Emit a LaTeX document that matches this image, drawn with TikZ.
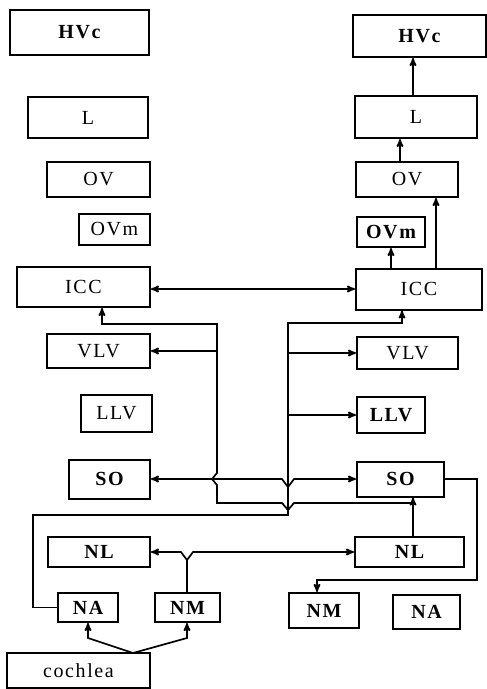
\documentclass[tikz,border=0pt]{standalone}
\usepackage{fontspec}
\setmainfont{Liberation Serif}[LetterSpace=8]
\usetikzlibrary{arrows}
\tikzset{
    %Define standard arrow tip
    >=stealth',
    %Define style for boxes
    nuc/.style={
           rectangle,
           draw=black, line width=2pt,
           inner sep=0pt,
           font=\fontsize{20}{24}\selectfont,
           text centered},
    nucb/.style={
           nuc,
           font=\fontsize{20}{24}\selectfont\bfseries},
    % Define arrow style
    pil/.style={
           ->,
           line width=1.7pt},
    bpil/.style={
           <->,
           line width=1.7pt}
}
\begin{document}
\begin{tikzpicture}[x=1pt,y=-1pt]
\useasboundingbox (0,0) rectangle (487,689);
% left side
\node[nucb, minimum width=139pt, minimum height=45pt] (lHVc) at (79.5,32.5) {HVc};
\node[nuc, minimum width=120pt, minimum height=41pt] (lL) at (88,117.5) {L};
\node[nuc, minimum width=103pt, minimum height=35pt] (lOV) at (98.5,179.5) {OV};
\node[nuc, minimum width=71pt, minimum height=31pt] (lOVm) at (114.5,229.5) {OVm};
\node[nuc, minimum width=133pt, minimum height=40pt] (lICC) at (83.5,287) {ICC};
\node[nuc, minimum width=103pt, minimum height=34pt] (lVLV) at (98.5,351) {VLV};
\node[nuc, minimum width=71pt, minimum height=37pt] (lLLV) at (116.5,413.5) {LLV};
\node[nucb, minimum width=81pt, minimum height=39pt] (lSO) at (109.5,479) {SO};
\node[nucb, minimum width=102pt, minimum height=30pt] (lNL) at (99,552) {NL};
\node[nucb, minimum width=60pt, minimum height=29pt] (lNA) at (88,607.5) {NA};
\node[nucb, minimum width=65pt, minimum height=29pt] (lNM) at (187.5,607.5) {NM};
\node[nuc, minimum width=143pt, minimum height=35pt] (coch) at (78.5,670.5) {cochlea};
% right side
\node[nucb, minimum width=133pt, minimum height=42pt] (rHVc) at (419.5,36) {HVc};
\node[nuc, minimum width=122pt, minimum height=42pt] (rL) at (416,117) {L};
\node[nuc, minimum width=102pt, minimum height=35pt] (rOV) at (407,179.5) {OV};
\node[nucb, minimum width=68pt, minimum height=30pt] (rOVm) at (391,232) {OVm};
\node[nuc, minimum width=126pt, minimum height=41pt] (rICC) at (419,289) {ICC};
\node[nuc, minimum width=101pt, minimum height=32pt] (rVLV) at (407.5,353) {VLV};
\node[nucb, minimum width=68pt, minimum height=36pt] (rLLV) at (391,415) {LLV};
\node[nucb, minimum width=87pt, minimum height=35pt] (rSO) at (400.5,479) {SO};
\node[nucb, minimum width=109pt, minimum height=30pt] (rNL) at (409.5,552) {NL};
\node[nucb, minimum width=70pt, minimum height=35pt] (rNM) at (324,610.5) {NM};
\node[nucb, minimum width=67pt, minimum height=34pt] (rNA) at (426.5,612) {NA};
% tracks
\coordinate (xA) at (413,0);
\coordinate (xB) at (436,0);
\coordinate (xC) at (400,0);
\coordinate (xD) at (217,0);
\coordinate (xE) at (402,0);
\coordinate (xF) at (288,0);
\coordinate (xG) at (317,0);
\coordinate (jNL) at (413,503);
\coordinate (jNM) at (187,560);
\coordinate (jCo) at (133,653);
% ascending, right
\draw[pil] (rL.north -| xA) -- (rHVc.south -| xA);
\draw[pil] (rOV.north -| xC) -- (rL.south -| xC);
\draw[pil] (rOVm.south |- rICC.north) -- (rOVm.south);
\draw[pil] (rICC.north -| xB) -- (rOV.south -| xB);
\draw[bpil] (rICC.west) -- (rICC.west -| lICC.east);
\draw[pil] (rNL.north -| xA) -- (rSO.south -| xA);
% NL to contralateral side
\draw[pil] (jNL) -- (294,503) -- ++(-6,7) -- ++(-6,-7) -- (217,503)
    -- (217,485) -- ++(-5,-6) -- ++(5,-6) -- (217,324) -- (102,324)
    -- (lICC.south -| 102,0);
\draw[pil] (lVLV.east -| xD) -- (lVLV.east);
% SO commissure
\draw[bpil] (lSO.east) -- (282,479) -- ++(6,8) -- ++(6,-8) -- (rSO.west);
% NA to contralateral side
\draw[pil] (lNA.west) -- (33,607.5) -- (33,515) -- (288,515) -- (288,323)
    -- (402,323) -- (rICC.south -| xE);
\draw[pil] (rVLV.west -| xF) -- (rVLV.west);
\draw[pil] (rLLV.west -| xF) -- (rLLV.west);
% NM to NL
\draw[line width=1.7pt] (lNM.north -| jNM) -- (jNM);
\draw[pil] (jNM) -- (181,552) -- (lNL.east);
\draw[pil] (jNM) -- (193,552) -- (rNL.west);
% cochlea
\draw[pil] (jCo) -- (88,638) -- (lNA.south);
\draw[pil] (jCo) -- (187,638) -- (lNM.south -| jNM);
% SO to NM
\draw[pil] (rSO.east) -- (477,479) -- (477,580) -- (317,580) -- (rNM.north -| xG);
\end{tikzpicture}
\end{document}
